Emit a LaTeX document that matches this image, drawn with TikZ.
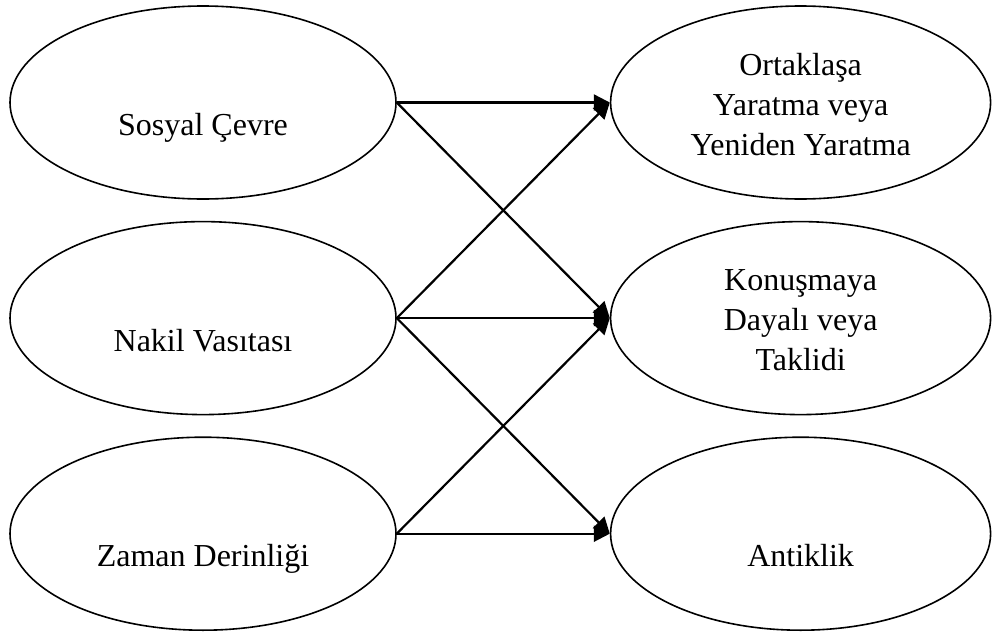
\documentclass[tikz,border=0pt]{standalone}
\usepackage{fontspec}
\setmainfont{Liberation Serif}
\usetikzlibrary{arrows.meta,positioning,shapes.geometric}

\tikzset{
	oval/.style={draw, ellipse, line width=0.8pt, inner sep=0pt, minimum height=96.5pt},
	kaynak/.style={oval, minimum width=193pt},
	sonuc/.style={oval, minimum width=190pt},
	metin/.style={font=\fontsize{16}{20}\selectfont, align=center, inner sep=0pt},
	ok/.style={-{Triangle[length=8pt,width=8pt]}, line width=1.1pt},
}

\begin{document}
\begin{tikzpicture}[x=0.5pt,y=-0.5pt]
	\useasboundingbox (0,0) rectangle (992,632);
	% sol taraf
	\node (sosyal) [kaynak] at (203,102.5) {};
	\node (nakil) [kaynak, below=10.5pt of sosyal] {};
	\node (zaman) [kaynak, below=10.5pt of nakil] {};
	% sag taraf
	\node (ortak) [sonuc, right=106.5pt of sosyal] {};
	\node (konusma) [sonuc, right=106.5pt of nakil] {};
	\node (antik) [sonuc, right=106.5pt of zaman] {};
	% yazilar
	\node (sosyal-t) [metin, anchor=base, yshift=-16.5pt] at (sosyal.center) {Sosyal Çevre};
	\node (nakil-t) [metin, anchor=base, yshift=-16.5pt] at (nakil.center) {Nakil Vasıtası};
	\node (zaman-t) [metin, anchor=base, yshift=-16.5pt] at (zaman.center) {Zaman Derinliği};
	\node (ortak-t) [metin, yshift=-1pt] at (ortak.center) {Ortaklaşa\\Yaratma veya\\Yeniden Yaratma};
	\node (konusma-t) [metin, yshift=-1pt] at (konusma.center) {Konuşmaya\\Dayalı veya\\Taklidi};
	\node (antik-t) [metin, anchor=base, yshift=-16.5pt] at (antik.center) {Antiklik};
	% oklar
	\foreach \a/\b in {sosyal/ortak, sosyal/konusma, nakil/ortak, nakil/konusma, nakil/antik, zaman/konusma, zaman/antik}
		\draw [ok] (\a.east) -- (\b.west);
\end{tikzpicture}
\end{document}
